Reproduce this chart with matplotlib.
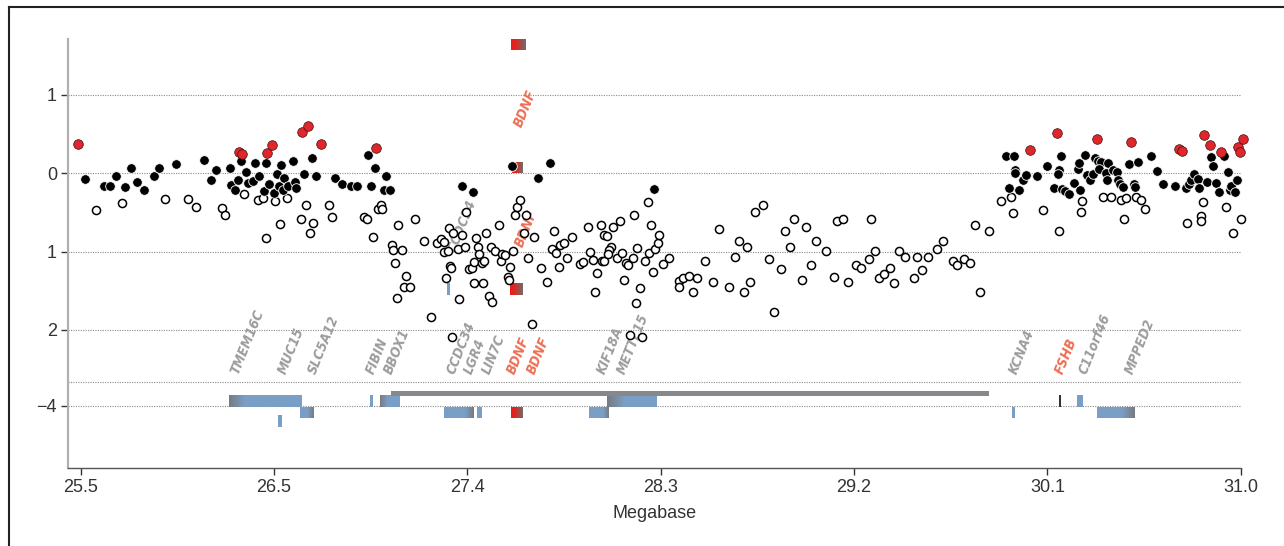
import numpy as np
import matplotlib
matplotlib.use('Agg')
import matplotlib.pyplot as plt
from matplotlib.colors import LinearSegmentedColormap
from matplotlib.lines import Line2D

# association values (signed scale, Megabase positions)
red_x = [25.486, 26.251, 26.265, 26.385, 26.408, 26.548, 26.578, 26.638, 26.899, 30.000,
         30.129, 30.321, 30.482, 30.708, 30.724, 30.824, 30.853, 30.905, 30.987, 30.995, 31.012]
red_y = [0.374, 0.276, 0.250, 0.253, 0.358, 0.524, 0.608, 0.378, 0.326, 0.298,
         0.511, 0.434, 0.404, 0.307, 0.281, 0.489, 0.358, 0.272, 0.330, 0.278, 0.434]

black_x = [25.522, 25.612, 25.640, 25.667, 25.711, 25.739, 25.768, 25.802, 25.849, 25.872,
           25.953, 26.083, 26.119, 26.141, 26.206, 26.213, 26.232, 26.247, 26.260, 26.284,
           26.295, 26.315, 26.328, 26.347, 26.370, 26.379, 26.395, 26.417, 26.430, 26.438,
           26.450, 26.457, 26.464, 26.485, 26.505, 26.514, 26.521, 26.561, 26.598, 26.616,
           26.707, 26.741, 26.781, 26.810, 26.864, 26.876, 26.894, 26.948, 26.938, 26.965,
           27.306, 27.359, 27.545, 27.667, 27.723, 28.220,
           29.885, 29.923, 29.930, 29.931, 29.967, 29.983, 30.032, 29.900, 29.951, 30.082,
           30.146, 30.140, 30.133, 30.114, 30.154, 30.165, 30.185, 30.211, 30.227, 30.240,
           30.261, 30.234, 30.271, 30.287, 30.300, 30.311, 30.324, 30.340, 30.329, 30.359,
           30.372, 30.366, 30.396, 30.413, 30.419, 30.429, 30.443, 30.469, 30.492, 30.501,
           30.511, 30.575, 30.605, 30.632, 30.689, 30.739, 30.753, 30.765, 30.779, 30.796,
           30.803, 30.842, 30.857, 30.869, 30.881, 30.896, 30.923, 30.940, 30.947, 30.954,
           30.975, 30.983]
black_y = [-0.073, -0.166, -0.166, -0.034, -0.169, 0.068, -0.111, -0.213, -0.034, 0.072,
           0.123, 0.174, -0.086, 0.042, 0.068, -0.156, -0.220, -0.088, 0.157, 0.020,
           -0.124, -0.098, 0.128, -0.034, -0.226, 0.128, -0.137, -0.248, -0.009, -0.162,
           0.100, -0.213, -0.064, -0.166, 0.153, -0.111, -0.184, -0.011, 0.199, -0.034,
           -0.063, -0.137, -0.162, -0.162, 0.227, -0.162, 0.070, -0.034, -0.217, -0.217,
           -0.162, -0.243, 0.097, -0.064, 0.125, -0.197,
           0.221, 0.221, 0.042, 0.000, -0.086, -0.026, -0.031, -0.192, -0.220, 0.097,
           0.221, 0.036, -0.009, -0.192, -0.198, -0.229, -0.268, -0.128, 0.051, -0.213,
           0.227, 0.128, -0.022, -0.088, -0.009, 0.192, 0.157, 0.148, 0.051, 0.000,
           0.128, -0.089, 0.042, 0.014, -0.083, -0.133, -0.171, 0.119, -0.143, -0.179,
           0.148, 0.225, 0.023, -0.140, -0.162, -0.192, -0.139, -0.086, -0.011, -0.069,
           -0.194, -0.115, 0.212, 0.097, -0.128, -0.243, 0.224, 0.020, -0.217, -0.160,
           -0.243, -0.088]

open_x = [25.574, 25.695, 25.898, 26.010, 26.046, 26.172, 26.183, 26.276, 26.340, 26.366,
          26.377, 26.423, 26.445, 26.476, 26.543, 26.570, 26.588, 26.600, 26.675, 26.691,
          26.841, 26.857, 26.886, 26.908, 26.922, 26.930, 27.003, 26.975, 26.983, 26.988,
          27.000, 27.022, 27.041, 27.033, 27.063, 27.085, 27.130, 27.161, 27.189, 27.210,
          27.224, 27.246, 27.265, 27.223, 27.241, 27.261, 27.287, 27.310, 27.324, 27.328,
          27.253, 27.257, 27.234, 27.295, 27.339, 27.354, 27.376, 27.383, 27.390, 27.365,
          27.401, 27.413, 27.421, 27.365, 27.407, 27.434, 27.452, 27.447, 27.464, 27.484,
          27.491, 27.498, 27.511, 27.537, 27.525, 27.529, 27.549, 27.558, 27.568, 27.585,
          27.610, 27.600, 27.650, 27.623, 27.638, 27.684, 27.710, 27.746, 27.736, 27.753,
          27.766, 27.774, 27.793, 27.808, 27.828, 27.867, 27.883, 27.903, 27.914, 27.927,
          27.940, 27.950, 27.968, 27.971, 27.983, 27.983, 27.996, 28.014, 28.007, 28.000,
          28.026, 28.041, 28.055, 28.068, 28.078, 28.085, 28.096, 28.104, 28.119, 28.123,
          28.135, 28.140, 28.151, 28.162, 28.176, 28.188, 28.194, 28.204, 28.212, 28.224,
          28.235, 28.241, 28.259, 28.291, 28.337, 28.336, 28.355, 28.384, 28.405, 28.423,
          28.458, 28.499, 28.526, 28.574, 28.602, 28.620, 28.644, 28.661, 28.674, 28.698,
          28.734, 28.763, 28.787, 28.820, 28.841, 28.862, 28.881, 28.920, 28.937, 28.965,
          28.987, 29.034, 29.073, 29.086, 29.113, 29.139, 29.176, 29.198, 29.236, 29.249,
          29.267, 29.285, 29.309, 29.339, 29.356, 29.381, 29.408, 29.451, 29.465, 29.489,
          29.517, 29.560, 29.587, 29.636, 29.656, 29.690, 29.715, 29.742, 29.765, 29.807,
          29.864, 29.911, 29.920, 30.061, 30.139, 30.246, 30.244, 30.345, 30.385, 30.431,
          30.458, 30.448, 30.504, 30.527, 30.548, 30.746, 30.811, 30.813, 30.819, 30.932,
          30.963, 31.000]
open_y = [-0.471, -0.379, -0.324, -0.324, -0.433, -0.446, -0.530, -0.271, -0.347, -0.322,
          -0.833, -0.351, -0.654, -0.313, -0.581, -0.405, -0.759, -0.637, -0.402, -0.561,
          -0.554, -0.584, -0.816, -0.452, -0.402, -0.458, -0.656, -0.922, -0.980, -1.149,
          -1.590, -0.976, -1.312, -1.458, -1.458, -0.581, -0.867, -1.831, -0.886, -0.835,
          -0.880, -0.705, -0.766, -1.001, -0.992, -2.087, -0.973, -0.792, -0.939, -0.501,
          -1.180, -1.212, -1.335, -1.605, -1.229, -1.209, -0.833, -0.948, -1.027, -1.129,
          -1.152, -1.117, -0.765, -1.405, -1.405, -1.571, -1.650, -0.939, -0.992, -0.664,
          -1.126, -1.037, -1.043, -1.203, -1.321, -1.363, -0.988, -0.533, -0.427, -0.347,
          -0.533, -0.759, -0.817, -1.078, -1.928, -1.206, -1.384, -0.734, -0.967, -1.022,
          -1.203, -0.920, -0.893, -1.079, -0.816, -1.156, -1.133, -0.688, -1.001, -1.105,
          -1.516, -1.280, -0.660, -1.124, -1.123, -0.791, -0.798, -0.941, -0.982, -1.033,
          -0.688, -1.078, -0.605, -1.022, -1.363, -1.146, -1.177, -2.065, -1.078, -0.535,
          -1.653, -0.958, -1.461, -2.087, -1.120, -0.370, -1.022, -0.660, -1.257, -0.973,
          -0.886, -0.784, -1.155, -1.086, -1.379, -1.452, -1.333, -1.308, -1.513, -1.333,
          -1.120, -1.384, -0.708, -1.456, -1.075, -0.868, -1.512, -0.941, -1.388, -0.501,
          -0.405, -1.098, -1.778, -1.226, -0.734, -0.941, -0.580, -1.360, -0.692, -1.177,
          -0.865, -0.996, -1.328, -0.605, -0.580, -1.391, -1.175, -1.206, -1.098, -0.580,
          -0.996, -1.333, -1.282, -1.213, -1.405, -0.996, -1.073, -1.333, -1.073, -1.231,
          -1.073, -0.971, -0.868, -1.120, -1.175, -1.098, -1.149, -0.660, -1.512, -0.737,
          -0.351, -0.299, -0.503, -0.471, -0.737, -0.350, -0.501, -0.299, -0.299, -0.347,
          -0.322, -0.580, -0.299, -0.347, -0.452, -0.637, -0.541, -0.612, -0.369, -0.427,
          -0.765, -0.581]

# gene track
gene_names = ['TMEM16C', 'MUC15', 'SLC5A12', 'FIBIN', 'BBOX1', 'CCDC34', 'LGR4', 'LIN7C',
              'BDNF', 'BDNF', 'KIF18A', 'METTL15', 'KCNA4', 'FSHB', 'C11orf46', 'MPPED2']
gene_label_x = [26.247, 26.473, 26.616, 26.891, 26.976, 27.271, 27.356, 27.441,
                27.560, 27.651, 27.987, 28.081, 29.936, 30.154, 30.268, 30.486]
highlight = ['BDNF', 'FSHB']

bar_start = [26.203, 26.540, 26.437, 26.872, 26.919, 27.223, 27.378, 27.539,
             27.911, 27.995, 29.916, 30.140, 30.225, 30.320]
bar_end = [26.545, 26.603, 26.453, 26.885, 27.011, 27.362, 27.397, 27.592,
           28.002, 28.229, 29.928, 30.149, 30.252, 30.497]
bar_row = [0, 1, 2, 0, 0, 1, 1, 1, 1, 0, 1, 0, 0, 1]
bar_style = ['gray-blue', 'blue-gray', 'blue', 'blue', 'gray-blue', 'blue-gray', 'blue',
             'red-gray', 'blue-gray', 'gray-blue', 'blue', 'dark', 'blue', 'blue-gray']
bar_fade = [0.22, 0.45, 0, 0, 0.4, 0.3, 0, 1.0, 0.3, 0.35, 0, 0, 0, 0.35]
row_span = [(-2.981, -2.831), (-3.121, -2.981), (-3.236, -3.091)]
span_bar = (26.972, 29.808, -2.844, -2.780)

# repeated features drawn inside the data panel
extra_box = [(27.542, 27.612, 1.575, 1.711, 'red-gray'), (27.544, 27.592, 0.008, 0.148, 'red-gray'),
             (27.536, 27.593, -1.554, -1.405, 'red-gray'), (27.235, 27.247, -1.554, -1.401, 'blue')]
extra_label = [('BDNF', 27.591, 0.575), ('CCDC34', 27.275, -1.02), ('BDNF', 27.598, -0.954)]

BLUE = '#7a9fc6'
GRAY = '#777a80'
RED = '#e0262a'
LABEL_GRAY = '#9c9c9c'
LABEL_RED = '#ec6f55'

plt.rcParams['font.family'] = ['Liberation Sans', 'DejaVu Sans']

fig = plt.figure(figsize=(12.84, 5.46), dpi=100)
ax = fig.add_axes([68 / 1284, 1 - 468.3 / 546, (1240.7 - 68) / 1284, (468.3 - 39.3) / 546])


def cmap_for(style, fade):
    if style == 'blue':
        return LinearSegmentedColormap.from_list('b', [BLUE, BLUE])
    if style == 'dark':
        return LinearSegmentedColormap.from_list('d', ['#333333', '#333333'])
    if style == 'red-gray':
        return LinearSegmentedColormap.from_list('r', [(0, '#ee1c1c'), (0.35, '#d92a22'), (1, '#6e6e6e')])
    if style == 'gray-blue':
        return LinearSegmentedColormap.from_list('gb', [(0, GRAY), (fade, BLUE), (1, BLUE)])
    return LinearSegmentedColormap.from_list('bg', [(0, BLUE), (1 - fade, BLUE), (1, GRAY)])


grad = np.linspace(0, 1, 256).reshape(1, -1)


def draw_box(x0, x1, y0, y1, style, fade=1.0, z=2):
    ax.imshow(grad, extent=(x0, x1, y0, y1), aspect='auto', cmap=cmap_for(style, fade),
              interpolation='bilinear', zorder=z)


for s, e, r, st, f in zip(bar_start, bar_end, bar_row, bar_style, bar_fade):
    draw_box(s, e, row_span[r][0], row_span[r][1], st, f)
ax.add_patch(plt.Rectangle((span_bar[0], span_bar[2]), span_bar[1] - span_bar[0],
                           span_bar[3] - span_bar[2], color='#86888c', lw=0, zorder=2))

for x0, x1, y0, y1, st in extra_box:
    draw_box(x0, x1, y0, y1, st, 1.0, z=2)

label_kw = dict(rotation=68, rotation_mode='anchor', ha='left', va='baseline',
                fontsize=10, fontweight='bold', fontstyle='italic',
                fontstretch='condensed', family=['DejaVu Sans'], zorder=2)
label_y = -2.582
for name, lx in zip(gene_names, gene_label_x):
    col = LABEL_RED if name in highlight else LABEL_GRAY
    ax.text(lx, label_y, name, color=col, **label_kw)
for name, lx, ly in extra_label:
    col = LABEL_RED if name in highlight else LABEL_GRAY
    ax.text(lx, ly, name, color=col, **label_kw)

# grid lines
xl = (25.4398, 31.0)
for gy in [1, 0, -1, -2, -2.66, -2.97]:
    ax.plot(xl, [gy, gy], color='#8a8a8a', lw=0.8, ls=(0, (1, 1.2)), zorder=1)

# points
ax.scatter(open_x, open_y, s=34, facecolor='white', edgecolor='black', linewidth=1.1,
           zorder=3, clip_on=False)
ax.scatter(black_x, black_y, s=48, facecolor='black', edgecolor='white', linewidth=0.6,
           zorder=4, clip_on=False)
ax.scatter(red_x, red_y, s=48, facecolor=RED, edgecolor='#3a1010', linewidth=0.5,
           zorder=5, clip_on=False)

ax.set_xlim(xl)
ax.set_ylim(-3.768, 1.711)

ax.set_xticks(np.linspace(25.5, 31.0, 7))
ax.set_xticklabels(['25.5', '26.5', '27.4', '28.3', '29.2', '30.1', '31.0'])
ax.set_yticks([1, 0, -1, -2, -2.97])
ax.set_yticklabels(['1', '0', '1', '2', '\u22124'])
ax.tick_params(axis='both', labelsize=13, colors='#333333', length=5, width=1)
ax.tick_params(axis='x', pad=3)
ax.tick_params(axis='y', pad=3)
ax.set_xlabel('Megabase', fontsize=13, color='#333333', labelpad=6)

for side in ['top', 'right']:
    ax.spines[side].set_visible(False)
ax.spines['left'].set_color('#b0b0b0')
ax.spines['left'].set_linewidth(1.6)
ax.spines['bottom'].set_color('#555555')
ax.spines['bottom'].set_linewidth(1.0)

# outer frame
fig.add_artist(Line2D([9 / 1284, 9 / 1284], [0, 1 - 7 / 546], color='#222222', lw=1.5))
fig.add_artist(Line2D([9 / 1284, 1], [1 - 7 / 546, 1 - 7 / 546], color='#222222', lw=1.5))

fig.savefig('out.png', dpi=100)
